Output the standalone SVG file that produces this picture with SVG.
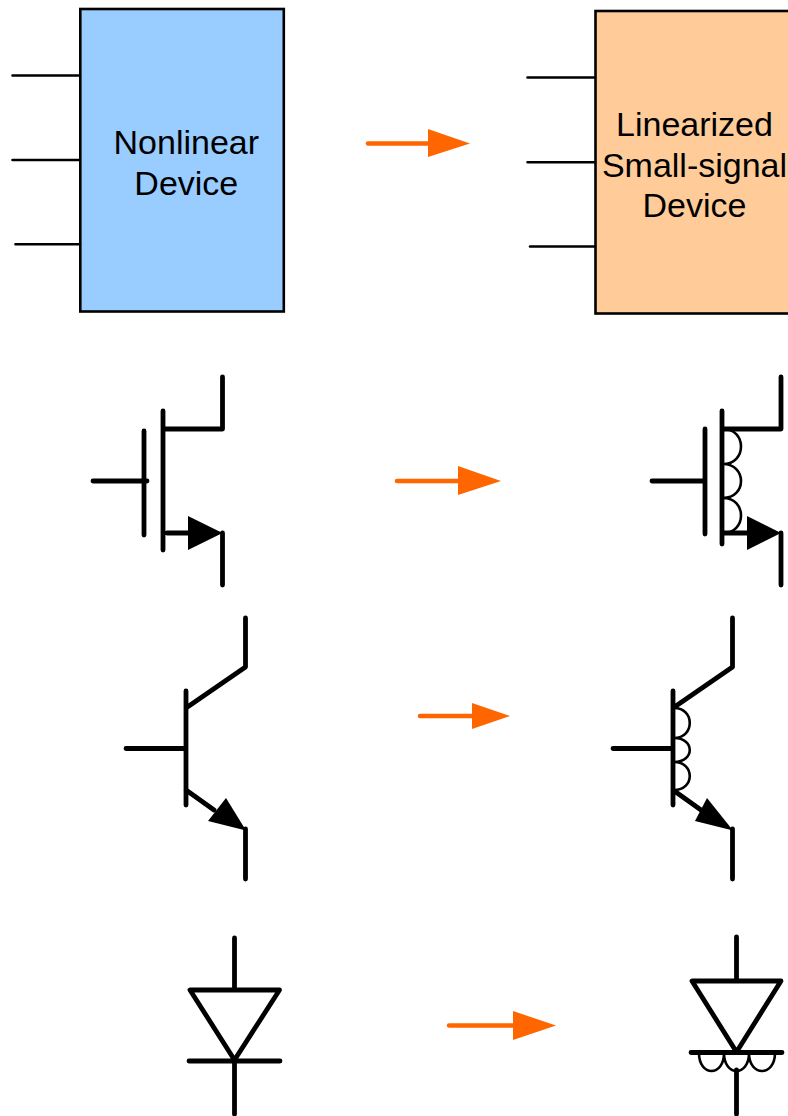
<svg xmlns="http://www.w3.org/2000/svg" width="788" height="1116" viewBox="0 0 788 1116">
<style>
.s{fill:none;stroke:#000;stroke-width:4.800;stroke-linecap:round;stroke-linejoin:round}
.w{fill:none;stroke:#000;stroke-width:2.600;stroke-linecap:round}
.b{stroke:#000;stroke-width:2.600}
.h{fill:#000}
.o{stroke:#ff6600;stroke-width:4.500;stroke-linecap:round;fill:none}
.a{fill:#ff6600}
text{font-family:"Liberation Sans",Arial,sans-serif;font-size:34px;text-anchor:middle;fill:#000}
</style>
<rect width="788" height="1116" fill="#fff"/>
<g id="nonlinear-device">
<rect class="b" x="80.300" y="9" width="203.500" height="302.500" fill="#99ccff"/>
<path class="w" d="M12.500 75.500H80M12.500 160H80M15.500 244.300H80"/>
<text x="186.300" y="154">Nonlinear</text>
<text x="186.300" y="194.500">Device</text>
</g>
<g id="linearized-device">
<rect class="b" x="595.500" y="11" width="203" height="302.500" fill="#ffcc99"/>
<path class="w" d="M527.500 77.500H595M527.500 162.300H595M530 246.500H595"/>
<text x="694.500" y="135.500">Linearized</text>
<text x="694.500" y="176.500">Small-signal</text>
<text x="694.500" y="216.500">Device</text>
</g>
<g id="mosfet">
<path class="s" d="M222.500 377V429H163.500M163 411V550M144 431V535M93 481H147M167 533H190M222.500 533V585"/>
<path class="h" d="M188 516L222.500 533L188 550Z"/>
</g>
<g id="mosfet-small-signal">
<path class="s" d="M781 377V429H722.500M722 411V544M705 429V534M652 481H705M724 533H749M781 533V585"/>
<path class="h" d="M747 516L781 533L747 550Z"/>
<path class="w" d="M723 429C747 429 747 464 723 464C747 464 747 498 723 498C747 498 747 533 723 533"/>
</g>
<g id="bjt">
<path class="s" d="M245.500 618V667L186 708M186 691V805M126 748.500H186M186 790L214 810M245.500 829V879"/>
<path class="h" d="M226 798L246 830.500L208 821Z"/>
</g>
<g id="bjt-small-signal">
<path class="s" d="M732.500 618V667L673 708M673 691V805M613 748.500H673M673 790L701 810M732.500 829V879"/>
<path class="h" d="M707 798L733 830.500L695 821Z"/>
<path class="w" d="M674 708C695 708 695 738 674 738C695 738 695 762 674 762C695 762 695 790 674 790"/>
</g>
<g id="diode">
<path class="s" d="M234.500 938V990M190 990H279.500L234.500 1060ZM189 1061H280M234.500 1061V1114"/>
</g>
<g id="diode-small-signal">
<path class="s" d="M736.500 937V981M692 981H781L736.500 1052ZM691 1052.500H782M736.500 1070V1114"/>
<path class="w" d="M699 1053C699 1077 724 1077 724 1053C724 1077 749 1077 749 1053C749 1077 775 1077 775 1053"/>
</g>
<g id="connectors">
<path class="o" d="M368 143.500H430"/><path class="a" d="M428 129L470 143.500L428 157Z"/>
<path class="o" d="M397 481H460"/><path class="a" d="M458 466L501 481L458 495Z"/>
<path class="o" d="M420 716H474"/><path class="a" d="M472 703L510 716L472 729Z"/>
<path class="o" d="M449 1025.500H515"/><path class="a" d="M513 1011L556 1025.500L513 1040Z"/>
</g>
</svg>
